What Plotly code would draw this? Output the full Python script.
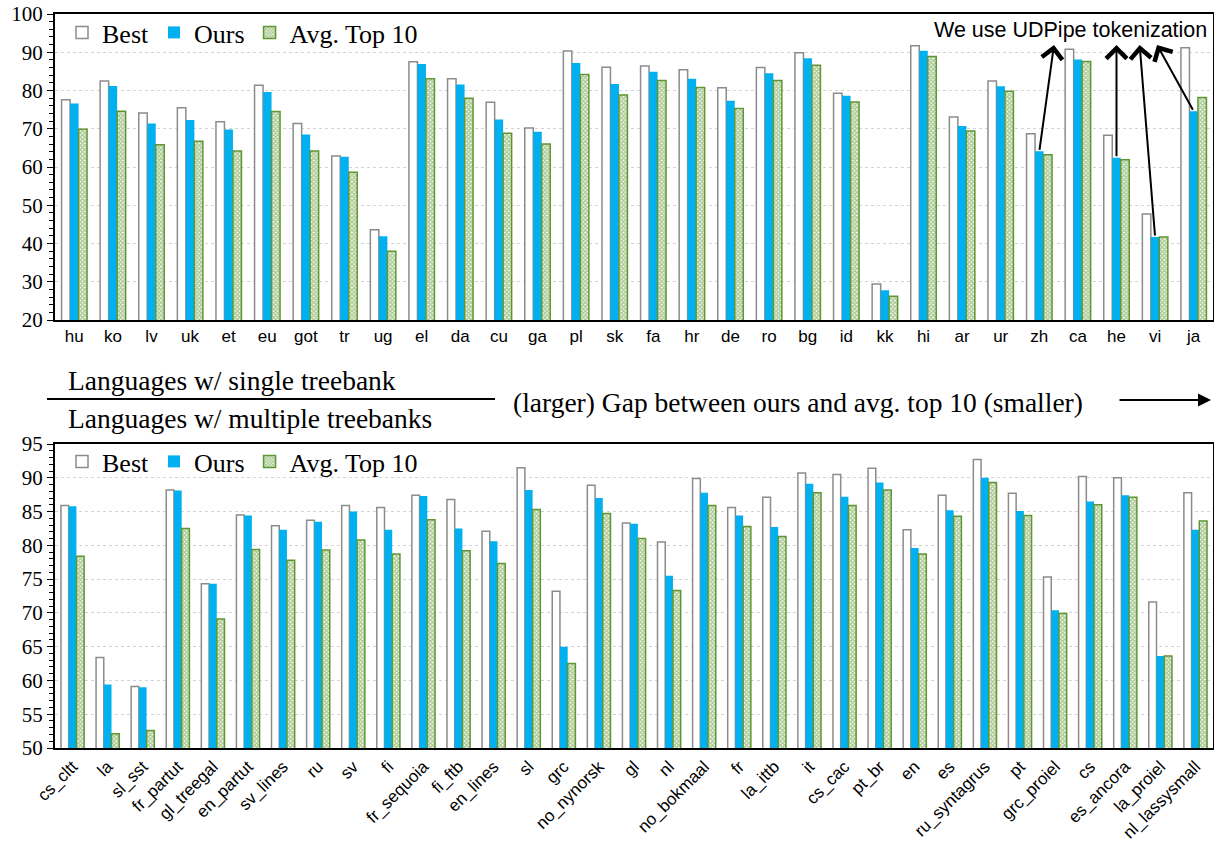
import plotly.graph_objects as go

# ---------------- data ----------------
top_langs = ["hu", "ko", "lv", "uk", "et", "eu", "got", "tr", "ug", "el", "da", "cu", "ga", "pl", "sk",
             "fa", "hr", "de", "ro", "bg", "id", "kk", "hi", "ar", "ur", "zh", "ca", "he", "vi", "ja"]
top_best = [77.6, 82.5, 74.1, 75.5, 71.8, 81.4, 71.4, 62.9, 43.6, 87.5, 83.1, 76.9, 70.2, 90.3, 86.1,
            86.4, 85.4, 80.7, 86.0, 89.9, 79.3, 29.4, 91.7, 73.1, 82.5, 68.7, 90.8, 68.3, 47.7, 91.2]
top_ours = [76.6, 81.2, 71.4, 72.3, 69.8, 79.6, 68.5, 62.7, 41.9, 86.9, 81.6, 72.4, 69.2, 87.2, 81.7,
            84.9, 83.1, 77.3, 84.5, 88.4, 78.6, 27.8, 90.4, 70.7, 81.1, 64.1, 88.1, 62.4, 41.7, 74.6]
top_avg = [69.9, 74.6, 65.8, 66.7, 64.2, 74.5, 64.2, 58.6, 38.0, 83.1, 78.0, 68.8, 66.0, 84.2, 78.8,
           82.6, 80.8, 75.3, 82.6, 86.6, 77.0, 26.2, 88.9, 69.4, 79.8, 63.2, 87.6, 61.9, 41.7, 78.2]

bot_langs = ["cs_cltt", "la", "sl_sst", "fr_partut", "gl_treegal", "en_partut", "sv_lines", "ru", "sv", "fi",
             "fr_sequoia", "fi_ftb", "en_lines", "sl", "grc", "no_nynorsk", "gl", "nl", "no_bokmaal", "fr",
             "la_ittb", "it", "cs_cac", "pt_br", "en", "es", "ru_syntagrus", "pt", "grc_proiel", "cs",
             "es_ancora", "la_proiel", "nl_lassysmall"]
bot_best = [85.9, 63.4, 59.1, 88.2, 74.3, 84.5, 82.9, 83.7, 85.9, 85.6,
            87.4, 86.8, 82.1, 91.5, 73.2, 88.9, 83.3, 80.5, 89.9, 85.6,
            87.1, 90.7, 90.5, 91.4, 82.3, 87.4, 92.7, 87.7, 75.3, 90.2,
            90.0, 71.6, 87.8]
bot_ours = [85.8, 59.4, 59.0, 88.1, 74.3, 84.4, 82.3, 83.5, 85.0, 82.3,
            87.3, 82.5, 80.6, 88.2, 65.0, 87.0, 83.2, 75.5, 87.8, 84.4,
            82.7, 89.1, 87.2, 89.3, 79.6, 85.2, 90.0, 85.1, 70.4, 86.5,
            87.4, 63.6, 82.3]
bot_avg = [78.4, 52.1, 52.6, 82.5, 69.1, 79.4, 77.8, 79.3, 80.8, 78.7,
           83.8, 79.2, 77.3, 85.3, 62.5, 84.7, 81.0, 73.3, 85.9, 82.8,
           81.3, 87.8, 85.9, 88.2, 78.7, 84.3, 89.3, 84.4, 69.9, 86.0,
           87.1, 63.6, 83.6]

udpipe_langs = ["zh", "he", "vi", "ja"]
series_names = ["Best", "Ours", "Avg. Top 10"]

# ---------------- styles ----------------
W, H = 1214, 848
SERIF = "Liberation Serif, Times New Roman, serif"
SANS = "Liberation Sans Narrow, Arial Narrow, Liberation Sans, Arial, sans-serif"
GRAY = "#8c8c8c"
BLUE = "#00B0F0"
GREEN = "#5E9732"


def px_x(p):
    return p / W


def px_y(p):
    return 1 - p / H


fig = go.Figure()


def add_set(cats, best, ours, avg, xa, ya, legend):
    fig.add_trace(go.Bar(x=cats, y=best, name=series_names[0], xaxis=xa, yaxis=ya, legend=legend,
                         marker=dict(color="white", line=dict(color=GRAY, width=1.5))))
    fig.add_trace(go.Bar(x=cats, y=ours, name=series_names[1], xaxis=xa, yaxis=ya, legend=legend,
                         marker=dict(color=BLUE, line=dict(color=BLUE, width=0))))
    fig.add_trace(go.Bar(x=cats, y=avg, name=series_names[2], xaxis=xa, yaxis=ya, legend=legend,
                         marker=dict(color="white", line=dict(color=GREEN, width=1.5),
                                     pattern=dict(shape="x", fgcolor=GREEN, bgcolor="white",
                                                  size=3, solidity=0.75))))


add_set(top_langs, top_best, top_ours, top_avg, "x", "y", "legend")
add_set(bot_langs, bot_best, bot_ours, bot_avg, "x2", "y2", "legend2")

axis_common = dict(showline=True, linecolor="black", linewidth=2, mirror=True, automargin=False)
grid_common = dict(showgrid=True, gridcolor="#d4d4d4", griddash="dot", gridwidth=1)

fig.update_layout(
    width=W, height=H,
    margin=dict(l=0, r=0, t=0, b=0),
    paper_bgcolor="white", plot_bgcolor="white",
    barmode="group", bargap=0.34, bargroupgap=0.0,
    xaxis=dict(domain=[px_x(55), px_x(1213)], anchor="y", ticks="",
               tickfont=dict(family=SANS, size=17, color="black"), tickangle=0, **axis_common),
    yaxis=dict(domain=[px_y(320), px_y(14)], anchor="x", range=[20, 100], dtick=10,
               ticks="outside", ticklen=6, tickcolor="black",
               minor=dict(dtick=2, ticks="outside", ticklen=4, tickcolor="black"),
               tickfont=dict(family=SERIF, size=21, color="black"), **grid_common, **axis_common),
    xaxis2=dict(domain=[px_x(55), px_x(1213)], anchor="y2", ticks="",
                tickfont=dict(family=SANS, size=17, color="black"), tickangle=-45, **axis_common),
    yaxis2=dict(domain=[px_y(748), px_y(444)], anchor="x2", range=[50, 95], dtick=5,
                ticks="outside", ticklen=6, tickcolor="black",
                minor=dict(dtick=1, ticks="outside", ticklen=4, tickcolor="black"),
                tickfont=dict(family=SERIF, size=21, color="black"), **grid_common, **axis_common),
    legend=dict(orientation="h", x=px_x(62), y=px_y(9), xanchor="left", yanchor="top",
                bgcolor="rgba(0,0,0,0)", font=dict(family=SERIF, size=26, color="black"),
                itemwidth=30, tracegroupgap=0),
    legend2=dict(orientation="h", x=px_x(62), y=px_y(438), xanchor="left", yanchor="top",
                 bgcolor="rgba(0,0,0,0)", font=dict(family=SERIF, size=26, color="black"),
                 itemwidth=30, tracegroupgap=0),
)

# UDPipe annotation text
fig.add_annotation(text="We use UDPipe tokenization", xref="paper", yref="paper",
                   x=px_x(1209), y=px_y(30), xanchor="right", yanchor="middle", showarrow=False,
                   font=dict(family=SANS, size=21.5, color="black"))

# arrows from "Ours" bar tops of UDPipe languages to the annotation text
head_x = {"zh": 25.38, "he": 27.0, "vi": 27.6, "ja": 28.05}
for lang in udpipe_langs:
    i = top_langs.index(lang)
    fig.add_annotation(x=head_x[lang], y=91.9, xref="x", yref="y",
                       ax=i, ay=top_ours[i], axref="x", ayref="y",
                       text="", showarrow=True, arrowhead=4, arrowsize=2.0, arrowwidth=2,
                       arrowcolor="black", standoff=0, startstandoff=0)

# middle captions
fig.add_annotation(text="Languages w/ single treebank", xref="paper", yref="paper",
                   x=px_x(66), y=px_y(380), xanchor="left", yanchor="middle", showarrow=False,
                   font=dict(family=SERIF, size=27.5, color="black"))
fig.add_annotation(text="Languages w/ multiple treebanks", xref="paper", yref="paper",
                   x=px_x(66), y=px_y(418), xanchor="left", yanchor="middle", showarrow=False,
                   font=dict(family=SERIF, size=27.5, color="black"))
fig.add_shape(type="line", xref="paper", yref="paper", x0=px_x(47), x1=px_x(495),
              y0=px_y(399), y1=px_y(399), line=dict(color="black", width=2))
fig.add_annotation(text="(larger) Gap between ours and avg. top 10 (smaller)", xref="paper", yref="paper",
                   x=px_x(511), y=px_y(402), xanchor="left", yanchor="middle", showarrow=False,
                   font=dict(family=SERIF, size=27.5, color="black"))
fig.add_annotation(x=px_x(1211), y=px_y(400), ax=-93, ay=0,
                   xref="paper", yref="paper", axref="pixel", ayref="pixel",
                   text="", showarrow=True, arrowhead=2, arrowsize=1.3, arrowwidth=2,
                   arrowcolor="black", standoff=0)

fig.write_html("out.html", config={"displayModeBar": False},
               post_script="document.body.style.margin='0';document.body.style.overflow='hidden';")
